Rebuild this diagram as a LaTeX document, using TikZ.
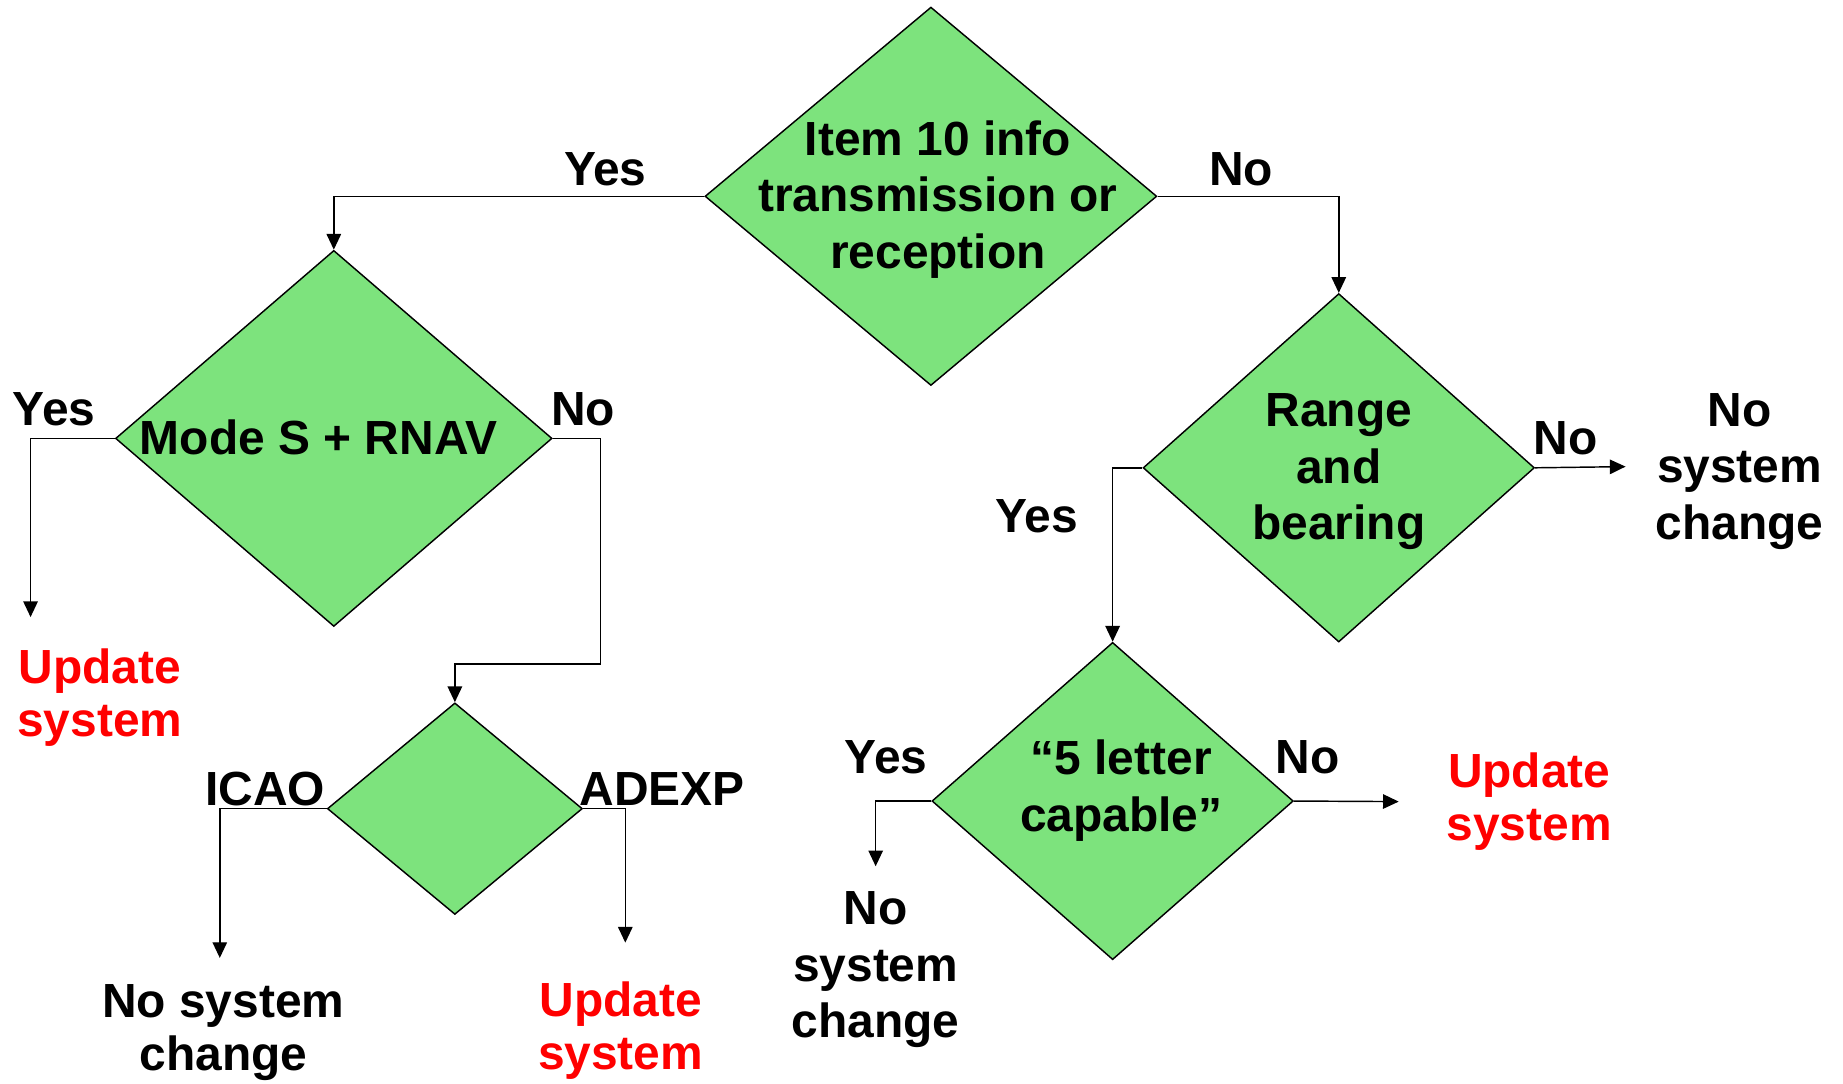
\documentclass[tikz,border=0pt]{standalone}
\usepackage{fontspec}
\setmainfont{Liberation Sans}
\usetikzlibrary{shapes.geometric,arrows.meta}
\definecolor{qgreen}{RGB}{125,227,125}

\begin{document}
\begin{tikzpicture}[x=0.02cm,y=-0.02cm,
    question/.style ={diamond, draw, fill=qgreen, line width=0.7pt, inner sep=0pt},
    qtext/.style ={font=\fontsize{23.2}{27.4}\selectfont\bfseries, align=center, anchor=base, inner sep=0pt},
    outcome/.style ={qtext, font=\fontsize{23.2}{25.6}\selectfont\bfseries},
    update/.style ={outcome, text=red},
    branch/.style ={font=\fontsize{23.2}{27.4}\selectfont\bfseries, anchor=base, inner sep=0pt},
    flow/.style ={line width=0.7pt, -{Triangle[width=7pt,length=7.6pt]}}]
   \useasboundingbox (0,0) rectangle (1568,922);
   % decisions
   \node[question, minimum width=7.69cm, minimum height=6.44cm] (item) at (792,167) {};
   \node[question, minimum width=7.43cm, minimum height=6.40cm] (modes) at (284,373) {};
   \node[question, minimum width=6.66cm, minimum height=5.93cm] (range) at (1139,398) {};
   \node[question, minimum width=4.34cm, minimum height=3.60cm] (format) at (387,688) {};
   \node[question, minimum width=6.15cm, minimum height=5.40cm] (letter) at (946.6,681.5) {};
   % base = last line
   \node[qtext] (itemtxt) at (798,228.3) {Item 10 info\\transmission or\\reception};
   \node[qtext] (modestxt) at (271,387) {Mode S + RNAV};
   \node[qtext] (rangetxt) at (1139,459.4) {Range\\and\\bearing};
   \node[qtext] (lettertxt) at (954,707) {“5 letter\\capable”};
   % outcomes
   \node[update] (upd1) at (85,626.8) {Update\\system};
   \node[outcome] (keep1) at (190,910.4) {No system\\change};
   \node[update] (upd2) at (528,910) {Update\\system};
   \node[qtext] (keep2) at (1480,459) {No\\system\\change};
   \node[qtext] (keep3) at (745,883) {No\\system\\change};
   \node[update] (upd3) at (1301,714.7) {Update\\system};
   % branch labels
   \node[branch] (y1) at (515,158) {Yes};
   \node[branch] (n1) at (1056,158) {No};
   \node[branch] (y2) at (46,362) {Yes};
   \node[branch] (n2) at (496,362) {No};
   \node[branch] (icao) at (225.5,685) {ICAO};
   \node[branch] (adexp) at (563.5,685) {ADEXP};
   \node[branch] (n3) at (1332,387) {No};
   \node[branch] (y3) at (882,453) {Yes};
   \node[branch] (y4) at (754,658) {Yes};
   \node[branch] (n4) at (1112.5,658) {No};
   % arrow ends
   \coordinate (e1) at (26,525);
   \coordinate (e2) at (187,815);
   \coordinate (e3) at (532,802);
   \coordinate (e4) at (1383,397);
   \coordinate (e5) at (745,737);
   \coordinate (e6) at (1190,682);
   \coordinate (k1) at (511,565);
   \draw[flow] (item.west) -| (modes.north);
   \draw[flow] (item.east) -| (range.north);
   \draw[flow] (modes.west) -| (e1);
   \draw[flow] (modes.east) -| (k1) -| (format.north);
   \draw[flow] (format.west) -| (e2);
   \draw[flow] (format.east) -| (e3);
   \draw[flow] (range.east) -- (e4);
   \draw[flow] (range.west) -| (letter.north);
   \draw[flow] (letter.west) -| (e5);
   \draw[flow] (letter.east) -- (e6);
\end{tikzpicture}
\end{document}
